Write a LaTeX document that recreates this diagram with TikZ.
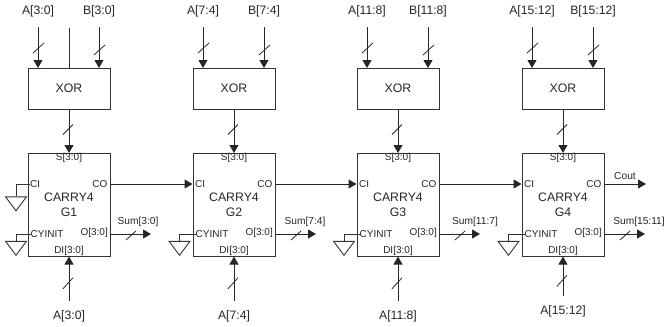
\documentclass[tikz,border=0pt]{standalone}
\usepackage{fontspec}
\setmainfont{Liberation Sans}
\usetikzlibrary{arrows.meta,positioning,shapes.geometric,calc}
\tikzset{
  xorblock/.style={
    rectangle,
    draw=black!80,
    line width=1pt,
    minimum width=82pt,
    minimum height=41pt,
    inner sep=0pt,
    font=\fontsize{12.3pt}{14pt}\selectfont,
    text=black!85
  },
  carry/.style={
    rectangle,
    draw=black!80,
    line width=1pt,
    minimum width=82pt,
    minimum height=103pt,
    inner sep=0pt,
    align=center,
    font=\fontsize{12.3pt}{15pt}\selectfont,
    text=black!85
  },
  gnd/.style={
    isosceles triangle,
    isosceles triangle stretches,
    shape border rotate=-90,
    draw=black!80,
    line width=0.9pt,
    minimum width=21pt,
    minimum height=14pt,
    inner sep=0pt
  },
  pin/.style={inner sep=0pt, font=\fontsize{10pt}{12pt}\selectfont, text=black!85},
  bus/.style={inner sep=0pt, font=\fontsize{12.2pt}{14pt}\selectfont, text=black!85},
  sumlabel/.style={inner sep=0pt, font=\fontsize{10.2pt}{12pt}\selectfont, text=black!85},
  arrow/.style={-{Triangle[length=8pt,width=9pt]}, line width=1pt, draw=black!85},
  wire/.style={line width=1pt, draw=black!80},
  slash/.style={draw=black!85, line width=0.8pt}
}
\begin{document}
\begin{tikzpicture}[x=1pt,y=-1pt]
  \useasboundingbox (0,0) rectangle (665,327);
  \foreach \n/\x/\hi/\lo/\sumtxt/\sumx/\gx/\diny/\lbly in {
      1/0/3/0/{Sum[3:0]}/138/16/301/316,
      2/165/7/4/{Sum[7:4]}/305/179.5/301/316,
      3/329/11/8/{Sum[11:7]}/475/344/301/316,
      4/494/15/12/{Sum[15:11]}/639/508.5/296/311} {
    \node[xorblock] (xor\n) at (69+\x,88.5) {XOR};
    \node[carry] (cy\n) at (69+\x,204.5) {CARRY4\\G\n};
    % inputs of the xor
    \node[bus] (a\n) at (38+\x,11) {A[\hi:\lo]};
    \node[bus] (b\n) at (99+\x,11) {B[\hi:\lo]};
    \coordinate (ain\n) at (38+\x,27);
    \coordinate (bin\n) at (99+\x,27);
    \coordinate (aend\n) at (38+\x,68);
    \coordinate (bend\n) at (99+\x,68);
    \draw[arrow] (ain\n) -- (aend\n);
    \draw[arrow] (bin\n) -- (bend\n);
    \draw[slash] ($(ain\n)+(-5,26)$) -- ++(11,-10);
    \draw[slash] ($(bin\n)+(-5,28)$) -- ++(11,-10);
    % xor to carry
    \coordinate (sin\n) at (69+\x,153);
    \draw[arrow] (xor\n.south) -- (sin\n);
    \draw[slash] ($(xor\n.south)+(-6,25)$) -- ++(10,-10);
    % pins
    \node[pin] (s\n) at (69+\x,158) {S[3:0]};
    \node[pin, anchor=west] (cyinit\n) at (30.5+\x,234) {CYINIT};
    \node[pin, anchor=east] (o\n) at (108+\x,233) {O[3:0]};
    \node[pin] (di\n) at (69+\x,251) {DI[3:0]};
    \node[pin, anchor=west] (ci\n) at (30+\x,184) {CI};
    \node[pin, anchor=east] (co\n) at (107.5+\x,184) {CO};
    % init ground
    \node[gnd, anchor=apex] (gi\n) at (\gx,256.5) {};
    \draw[wire] (cyinit\n.west) -| (gi\n.lower side);
    % sum output
    \coordinate (sumend\n) at (151+\x,234);
    \draw[arrow] (110+\x,234) -- (sumend\n);
    \draw[slash] (126+\x,240) -- ++(10,-9);
    \node[sumlabel] (sum\n) at (\sumx,222) {\sumtxt};
    % data input
    \coordinate (din\n) at (69+\x,\diny);
    \draw[arrow] (din\n) -- (cy\n.south);
    \draw[slash] ($(din\n)!0.5!(cy\n.south)+(-6,10)$) -- ++(10,-11);
    \node[bus] (alow\n) at (69+\x,\lbly) {A[\hi:\lo]};
  }
  % extra line on the first xor
  \coordinate (mid) at (69,28);
  \draw[wire] (mid) -- (xor1.north);
  % carry chain
  \node[gnd, anchor=apex] (g0) at (16,212) {};
  \draw[wire] (ci1.west) -| (g0.lower side);
  \draw[arrow] (cy1.east |- co1) -- (cy2.west |- ci2);
  \draw[arrow] (cy2.east |- co2) -- (cy3.west |- ci3);
  \draw[arrow] (cy3.east |- co3) -- (cy4.west |- ci4);
  \coordinate (cout) at (646,184);
  \draw[arrow] (cy4.east |- co4) -- (cout);
  \node[sumlabel] (coutlabel) at (625,176) {Cout};
\end{tikzpicture}
\end{document}
